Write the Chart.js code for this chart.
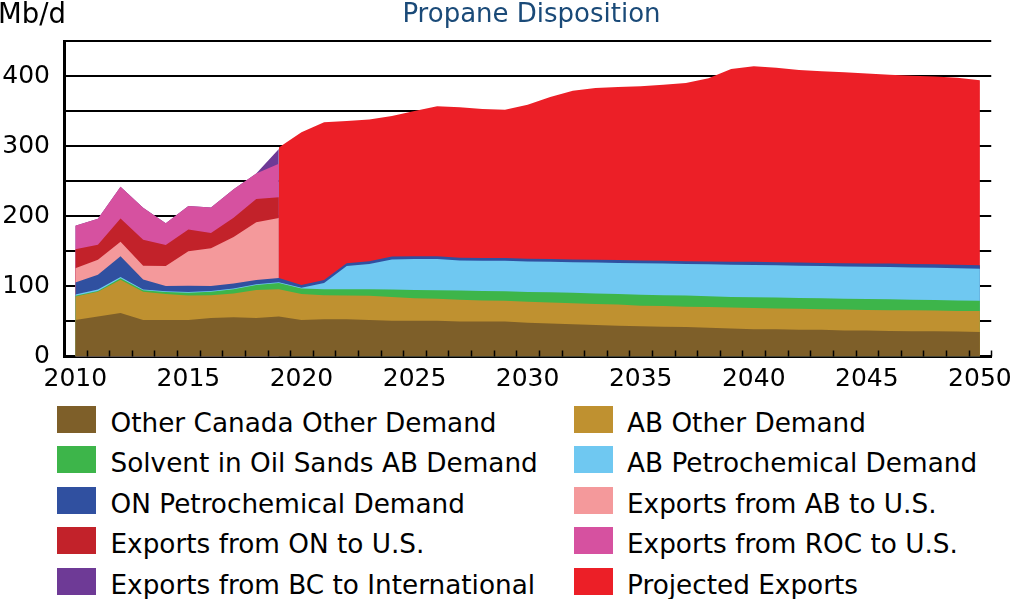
<!DOCTYPE html>
<html>
<head>
<meta charset="utf-8">
<title>Propane Disposition</title>
<script src="https://cdn.jsdelivr.net/npm/chart.js@4.4.1/dist/chart.umd.min.js"></script>
<style>
  body { margin: 0; background: #fff; font-family: 'DejaVu Sans', sans-serif; }
  #wrap { position: relative; width: 1020px; height: 599px; overflow: hidden; }
  #chart { position: absolute; left: 0; top: 0; }
  .title { position: absolute; left: 0; top: 0; width: 1063px; text-align: center; color: #1a4a78; font-size: 26px; line-height: 26px; }
  .unit { position: absolute; left: -2px; top: 0; font-size: 27.5px; line-height: 27.5px; color: #000; }
  .legend-box { position: absolute; width: 39px; height: 27px; }
  .legend-text { position: absolute; font-size: 26.3px; line-height: 26px; white-space: nowrap; color: #000; }
</style>
</head>
<body>
<div id="wrap">
  <canvas id="chart" width="1020" height="400"></canvas>
  <div class="title">Propane Disposition</div>
  <div class="unit">Mb/d</div>
  <div id="legend"></div>
</div>
<script>
// Years on the axis (2010 - 2050)
const years = Array.from({ length: 41 }, (_, i) => 2010 + i)

// Domestic demand, 2010 - 2050 (Mb/d)
const otherCanada = [52, 57, 62, 52, 52, 52, 55, 56, 55, 57, 52, 53, 53, 52, 51, 51, 51, 50, 50, 50,
  48, 47, 46, 45, 44, 43, 42.5, 42, 41, 40, 39, 39, 38, 38, 37, 37, 36.5, 36, 36, 35.5, 35]
const abOther = [33.5, 35.5, 47.5, 40.5, 37, 35, 32.5, 34, 40, 39, 37, 34.5, 34, 34.5, 34, 32, 31.5, 31, 30, 29.5,
  30, 30, 30, 30, 30, 29.5, 29.5, 29, 29.5, 30, 30, 29.5, 30, 29.5, 30, 29.5, 29.5, 30, 29.5, 29.5, 30]
const solvent = [1, 1, 2, 2, 3, 4, 5, 6, 7, 9, 8, 8.5, 9, 9.5, 10.5, 12, 12, 13, 13.5, 13.5,
  14, 14.5, 15, 15, 15, 15.5, 15.5, 16, 15.5, 15, 15.5, 15.5, 15.5, 15.5, 15.5, 15.5, 15.5, 15, 15, 15, 14.5]
const abPetro = [2, 2, 2, 1, 1, 1, 1, 1, 1, 1, 1, 9, 33, 36, 43, 44, 44.5, 43, 43, 43.5,
  43.5, 43.5, 43.5, 44, 44.5, 45, 45, 45, 45.5, 46, 46, 46, 46, 46, 46, 46, 46, 46, 46, 46, 45.5]
const onPetro = [17, 21, 29.5, 14.5, 7.5, 9, 7, 7, 6, 6, 4, 4, 4, 4, 4, 4, 4, 4, 4, 4,
  4, 4, 4, 4, 4, 4, 4, 4, 4, 4, 4.5, 4.5, 4.5, 4.5, 4.5, 4.5, 5, 5, 5, 5, 5]

// Historical exports, 2010 - 2019
const abExports = [20.5, 21.5, 20.5, 19.5, 28.5, 49, 54, 66.5, 82.5, 85.5]
const onExports = [27, 21.5, 33.5, 37, 30, 31, 21.5, 27.5, 33, 29.5]
const rocExports = [33.5, 37, 45, 45.5, 31, 33.5, 36.5, 40.5, 36.5, 48]
const bcExports = [0, 0, 0, 0, 0, 0, 0, 0, 0, 21]

// Projected exports, 2019 - 2050
const projected = [186, 218, 225, 203, 202, 200.5, 207, 214, 214.5, 212.5, 211.5, 219.5, 231, 240.5, 245, 247,
  248.5, 251, 254, 261.5, 275, 279, 277.5, 274.5, 273.5, 272.5, 271, 269.5, 268.5, 268, 266.5, 264]

const labels = [
  'Other Canada Other Demand', 'AB Other Demand',
  'Solvent in Oil Sands AB Demand', 'AB Petrochemical Demand',
  'ON Petrochemical Demand', 'Exports from AB to U.S.',
  'Exports from ON to U.S.', 'Exports from ROC to U.S.',
  'Exports from BC to International', 'Projected Exports'
]
const colors = ['#7e5f29', '#bf9130', '#3db54a', '#6fc8f1', '#3050a0',
  '#f4999b', '#c2222a', '#d651a0', '#6e3a96', '#ec1f27']

// Stack the layers by hand (the exports switch from history to projection in 2019)
const layers = []
let base = years.map(() => 0)
;[otherCanada, abOther, solvent, abPetro, onPetro].forEach(vals => {
  base = base.map((b, i) => b + vals[i])
  layers.push(base.map((v, i) => ({ x: years[i], y: v })))
})
const domesticTop = base
let histBase = domesticTop.slice(0, 10)
;[abExports, onExports, rocExports, bcExports].forEach(vals => {
  histBase = histBase.map((b, i) => b + vals[i])
  layers.push(histBase.map((v, i) => ({ x: years[i], y: v })))
})
layers.push(projected.map((v, i) => ({ x: years[i + 9], y: domesticTop[i + 9] + v })))

const datasets = layers.map((data, i) => ({
  label: labels[i],
  data: data,
  backgroundColor: colors[i],
  borderColor: 'rgba(0,0,0,0)',
  borderWidth: 0,
  pointRadius: 0,
  fill: 'origin',
  tension: 0
}))

// Small year ticks pointing up from the x axis, between the years
const yearTicks = {
  id: 'yearTicks',
  afterDraw(chart) {
    const { ctx, chartArea, scales } = chart
    ctx.save()
    ctx.strokeStyle = '#000'
    ctx.lineWidth = 1.5
    years.forEach(yr => {
      const px = Math.round(scales.x.getPixelForValue(yr + 0.5)) + 0.5
      ctx.beginPath()
      ctx.moveTo(px, chartArea.bottom)
      ctx.lineTo(px, chartArea.bottom - 6)
      ctx.stroke()
    })
    ctx.restore()
  }
}

const tickFont = { family: 'DejaVu Sans', size: 25 }

new Chart(document.getElementById('chart').getContext('2d'), {
  type: 'line',
  data: { datasets: datasets },
  plugins: [yearTicks],
  options: {
    responsive: false,
    animation: false,
    layout: { padding: { top: 41, right: 21, left: 0, bottom: 0 } },
    plugins: {
      legend: { display: false },
      tooltip: { enabled: false },
      title: { display: false }
    },
    scales: {
      x: {
        type: 'linear',
        min: 2009.5,
        max: 2050.5,
        z: 1,
        afterBuildTicks: axis => {
          axis.ticks = years.filter(y => y % 5 === 0).map(y => ({ value: y }))
        },
        afterFit: scale => { scale.height = 43.5 },
        grid: { display: false, drawTicks: false },
        border: { display: true, color: '#000', width: 3 },
        ticks: {
          autoSkip: false,
          maxRotation: 0,
          padding: 8,
          color: '#000',
          font: tickFont,
          callback: v => String(v)
        }
      },
      y: {
        min: 0,
        max: 450,
        z: 1,
        afterFit: scale => { scale.width = 64 },
        grid: { color: '#000', lineWidth: 2, drawTicks: false },
        border: { display: true, color: '#000', width: 3 },
        ticks: {
          stepSize: 50,
          autoSkip: false,
          padding: 14,
          color: '#000',
          font: tickFont,
          callback: v => (v % 100 === 0 ? v : '')
        }
      }
    }
  }
})

// Legend, two columns, same order as the stack
const legend = document.getElementById('legend')
labels.forEach((name, i) => {
  const row = Math.floor(i / 2)
  const col = i % 2
  const box = document.createElement('div')
  box.className = 'legend-box'
  box.style.left = (col === 0 ? 57 : 574) + 'px'
  box.style.top = (406 + row * 40.4) + 'px'
  box.style.background = colors[i]
  legend.appendChild(box)
  const text = document.createElement('div')
  text.className = 'legend-text'
  text.style.left = (col === 0 ? 110.5 : 627) + 'px'
  text.style.top = (410 + row * 40.4) + 'px'
  text.textContent = name
  legend.appendChild(text)
})
</script>
</body>
</html>
